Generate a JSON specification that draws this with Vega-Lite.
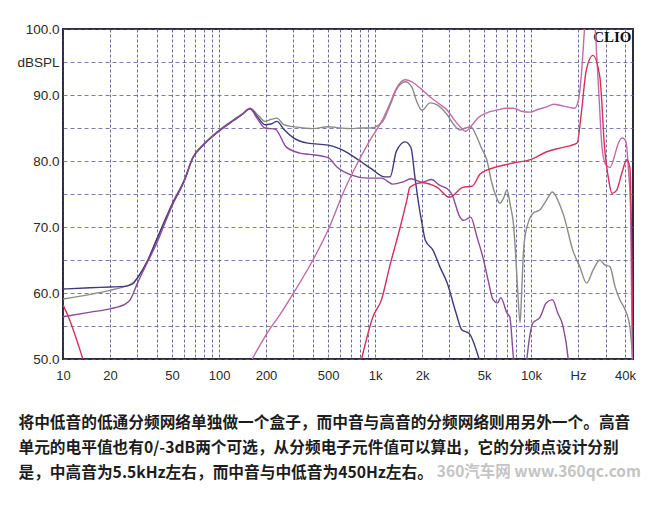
{
  "$schema": "https://vega.github.io/schema/vega-lite/v6.json",
  "autosize": {"type": "none"},
  "width": 570,
  "height": 330,
  "padding": {"left": 63, "top": 29, "right": 17, "bottom": 146},
  "background": "white",
  "title": {"text": "360汽车网 www.360qc.com", "orient": "bottom", "anchor": "end", "frame": "group", "offset": -15, "dx": 8, "font": "Noto Sans CJK SC", "fontSize": 15.5, "fontWeight": "bold", "color": "#c4c4c4"},
  "datasets": {
    "curves": [
      {"s":"G","f":10,"db":59.1},{"s":"G","f":15,"db":59.8},{"s":"G","f":20,"db":60.4},{"s":"G","f":25,"db":61},{"s":"G","f":28,"db":61.5},{"s":"G","f":30,"db":62.3},{"s":"G","f":35,"db":65},{"s":"G","f":40,"db":68.2},{"s":"G","f":45,"db":71},{"s":"G","f":50,"db":73.5},{"s":"G","f":60,"db":77.2},{"s":"G","f":68,"db":80.6},{"s":"G","f":80,"db":82.6},{"s":"G","f":97,"db":84.4},{"s":"G","f":123,"db":86.2},{"s":"G","f":140,"db":87.1},{"s":"G","f":158,"db":88},{"s":"G","f":180,"db":86.8},{"s":"G","f":197,"db":86},{"s":"G","f":215,"db":86.3},{"s":"G","f":235,"db":86.5},{"s":"G","f":260,"db":85.5},{"s":"G","f":297,"db":85.2},{"s":"G","f":350,"db":85},{"s":"G","f":400,"db":84.9},{"s":"G","f":500,"db":85.2},{"s":"G","f":600,"db":85},{"s":"G","f":700,"db":84.9},{"s":"G","f":800,"db":85},{"s":"G","f":930,"db":85},{"s":"G","f":1050,"db":85.4},{"s":"G","f":1120,"db":86},{"s":"G","f":1250,"db":88.5},{"s":"G","f":1370,"db":90.8},{"s":"G","f":1560,"db":92},{"s":"G","f":1720,"db":91.2},{"s":"G","f":1850,"db":89},{"s":"G","f":2000,"db":87.7},{"s":"G","f":2250,"db":88.8},{"s":"G","f":2500,"db":88.5},{"s":"G","f":2900,"db":87},{"s":"G","f":3200,"db":85.5},{"s":"G","f":3500,"db":84.7},{"s":"G","f":3800,"db":85},{"s":"G","f":4100,"db":85.2},{"s":"G","f":4500,"db":83.6},{"s":"G","f":4800,"db":82},{"s":"G","f":5200,"db":80.2},{"s":"G","f":5600,"db":76.7},{"s":"G","f":6000,"db":74.5},{"s":"G","f":6300,"db":73.6},{"s":"G","f":6700,"db":74.5},{"s":"G","f":7000,"db":75.6},{"s":"G","f":7400,"db":73},{"s":"G","f":7700,"db":70.6},{"s":"G","f":8000,"db":65},{"s":"G","f":8200,"db":60.5},{"s":"G","f":8500,"db":55.5},{"s":"G","f":8700,"db":60},{"s":"G","f":8900,"db":65.5},{"s":"G","f":9200,"db":69},{"s":"G","f":10300,"db":72.1},{"s":"G","f":11400,"db":72.6},{"s":"G","f":12500,"db":74},{"s":"G","f":13700,"db":75.3},{"s":"G","f":15000,"db":73.8},{"s":"G","f":16300,"db":71.5},{"s":"G","f":18500,"db":66.5},{"s":"G","f":20500,"db":64},{"s":"G","f":22700,"db":61.5},{"s":"G","f":25000,"db":63.5},{"s":"G","f":27600,"db":65},{"s":"G","f":29500,"db":64.3},{"s":"G","f":32000,"db":64},{"s":"G","f":34500,"db":61},{"s":"G","f":37000,"db":59},{"s":"G","f":40000,"db":57.5},{"s":"G","f":43000,"db":54.8},{"s":"G","f":44800,"db":50},

      {"s":"N","f":10,"db":60.6},{"s":"N","f":15,"db":60.8},{"s":"N","f":20,"db":60.9},{"s":"N","f":25,"db":61},{"s":"N","f":28,"db":61.4},{"s":"N","f":30,"db":62.3},{"s":"N","f":35,"db":65},{"s":"N","f":40,"db":68.2},{"s":"N","f":45,"db":71},{"s":"N","f":50,"db":73.4},{"s":"N","f":60,"db":77.1},{"s":"N","f":68,"db":80.5},{"s":"N","f":80,"db":82.5},{"s":"N","f":97,"db":84.3},{"s":"N","f":123,"db":86.1},{"s":"N","f":140,"db":87},{"s":"N","f":158,"db":87.9},{"s":"N","f":175,"db":86.8},{"s":"N","f":197,"db":85.5},{"s":"N","f":215,"db":85.6},{"s":"N","f":235,"db":86},{"s":"N","f":260,"db":84.8},{"s":"N","f":300,"db":83.5},{"s":"N","f":370,"db":82.7},{"s":"N","f":500,"db":82.4},{"s":"N","f":650,"db":81.4},{"s":"N","f":800,"db":80},{"s":"N","f":950,"db":78.8},{"s":"N","f":1150,"db":77.6},{"s":"N","f":1250,"db":77.6},{"s":"N","f":1370,"db":81.5},{"s":"N","f":1560,"db":82.9},{"s":"N","f":1700,"db":82},{"s":"N","f":1800,"db":77.6},{"s":"N","f":1900,"db":73.6},{"s":"N","f":2000,"db":70.5},{"s":"N","f":2100,"db":68},{"s":"N","f":2350,"db":66.5},{"s":"N","f":2600,"db":64},{"s":"N","f":2900,"db":61.5},{"s":"N","f":3300,"db":57},{"s":"N","f":3600,"db":54.4},{"s":"N","f":4000,"db":53.9},{"s":"N","f":4600,"db":50.3},{"s":"N","f":4900,"db":48},

      {"s":"W","f":10,"db":56.4},{"s":"W","f":15,"db":57.1},{"s":"W","f":20,"db":57.6},{"s":"W","f":25,"db":58.3},{"s":"W","f":27,"db":59},{"s":"W","f":30,"db":61.5},{"s":"W","f":35,"db":64.8},{"s":"W","f":40,"db":67.6},{"s":"W","f":45,"db":70.6},{"s":"W","f":50,"db":73.2},{"s":"W","f":60,"db":77},{"s":"W","f":68,"db":80.5},{"s":"W","f":80,"db":82.5},{"s":"W","f":97,"db":84.3},{"s":"W","f":123,"db":86.1},{"s":"W","f":140,"db":87},{"s":"W","f":158,"db":87.9},{"s":"W","f":175,"db":86.5},{"s":"W","f":197,"db":85},{"s":"W","f":230,"db":84.8},{"s":"W","f":270,"db":82.1},{"s":"W","f":330,"db":81.2},{"s":"W","f":380,"db":81},{"s":"W","f":500,"db":80.5},{"s":"W","f":570,"db":79.1},{"s":"W","f":700,"db":77.9},{"s":"W","f":900,"db":77.4},{"s":"W","f":1100,"db":77.4},{"s":"W","f":1300,"db":76.5},{"s":"W","f":1500,"db":76.8},{"s":"W","f":1700,"db":77.3},{"s":"W","f":2000,"db":76.8},{"s":"W","f":2300,"db":77.2},{"s":"W","f":2600,"db":76.3},{"s":"W","f":2900,"db":75.8},{"s":"W","f":3100,"db":75},{"s":"W","f":3500,"db":71.5},{"s":"W","f":3700,"db":71},{"s":"W","f":4100,"db":71.5},{"s":"W","f":4500,"db":68.5},{"s":"W","f":4900,"db":65.5},{"s":"W","f":5300,"db":62},{"s":"W","f":5700,"db":59},{"s":"W","f":6100,"db":58.5},{"s":"W","f":6400,"db":59.3},{"s":"W","f":7000,"db":57},{"s":"W","f":7300,"db":56.4},{"s":"W","f":7700,"db":50.3},{"s":"W","f":8200,"db":45},{"s":"W","f":9000,"db":45},{"s":"W","f":9400,"db":50},{"s":"W","f":10300,"db":55.5},{"s":"W","f":11400,"db":56.3},{"s":"W","f":12500,"db":58.5},{"s":"W","f":13700,"db":59},{"s":"W","f":14800,"db":57},{"s":"W","f":16000,"db":55},{"s":"W","f":17300,"db":50},{"s":"W","f":18000,"db":45},

      {"s":"P","f":163,"db":50},{"s":"P","f":203,"db":53.9},{"s":"P","f":250,"db":57},{"s":"P","f":300,"db":60},{"s":"P","f":400,"db":65},{"s":"P","f":510,"db":70},{"s":"P","f":620,"db":75},{"s":"P","f":765,"db":79.5},{"s":"P","f":930,"db":83.2},{"s":"P","f":1120,"db":86.3},{"s":"P","f":1250,"db":88.8},{"s":"P","f":1370,"db":91},{"s":"P","f":1560,"db":92.3},{"s":"P","f":1720,"db":92},{"s":"P","f":2000,"db":90.8},{"s":"P","f":2250,"db":89.7},{"s":"P","f":2600,"db":88.6},{"s":"P","f":2900,"db":87.7},{"s":"P","f":3200,"db":86.3},{"s":"P","f":3500,"db":85.2},{"s":"P","f":3800,"db":84.5},{"s":"P","f":4200,"db":85.5},{"s":"P","f":4600,"db":86.6},{"s":"P","f":5200,"db":87.3},{"s":"P","f":6000,"db":87.7},{"s":"P","f":7000,"db":88},{"s":"P","f":7700,"db":88},{"s":"P","f":8800,"db":87.5},{"s":"P","f":9900,"db":87.4},{"s":"P","f":11000,"db":87.8},{"s":"P","f":12600,"db":88.2},{"s":"P","f":14000,"db":88.6},{"s":"P","f":15500,"db":88.4},{"s":"P","f":17000,"db":88.2},{"s":"P","f":19000,"db":88},{"s":"P","f":20000,"db":89},{"s":"P","f":21000,"db":93},{"s":"P","f":21500,"db":96.4},{"s":"P","f":22200,"db":101},{"s":"P","f":23500,"db":103},{"s":"P","f":25500,"db":101},{"s":"P","f":26500,"db":95},{"s":"P","f":27500,"db":88},{"s":"P","f":28500,"db":82},{"s":"P","f":30000,"db":79.5},{"s":"P","f":32000,"db":79},{"s":"P","f":34000,"db":80.5},{"s":"P","f":36000,"db":82.5},{"s":"P","f":38500,"db":83.5},{"s":"P","f":40500,"db":83},{"s":"P","f":42000,"db":79},{"s":"P","f":43500,"db":72},{"s":"P","f":44500,"db":50},

      {"s":"R","f":820,"db":50},{"s":"R","f":970,"db":56.4},{"s":"R","f":1100,"db":59},{"s":"R","f":1240,"db":64},{"s":"R","f":1450,"db":70},{"s":"R","f":1600,"db":74.1},{"s":"R","f":1670,"db":76},{"s":"R","f":2000,"db":76.7},{"s":"R","f":2500,"db":76},{"s":"R","f":3000,"db":74.5},{"s":"R","f":3650,"db":76},{"s":"R","f":4200,"db":76.2},{"s":"R","f":4700,"db":78},{"s":"R","f":5200,"db":78.6},{"s":"R","f":6000,"db":79.1},{"s":"R","f":7700,"db":79.7},{"s":"R","f":9900,"db":80.2},{"s":"R","f":12600,"db":81.4},{"s":"R","f":15500,"db":82},{"s":"R","f":19700,"db":82.7},{"s":"R","f":21000,"db":87.3},{"s":"R","f":22600,"db":93.8},{"s":"R","f":24900,"db":96},{"s":"R","f":27600,"db":92.7},{"s":"R","f":29600,"db":82},{"s":"R","f":31500,"db":77},{"s":"R","f":33000,"db":75.1},{"s":"R","f":35400,"db":75.6},{"s":"R","f":38000,"db":78},{"s":"R","f":41000,"db":80.2},{"s":"R","f":43000,"db":79},{"s":"R","f":44800,"db":55},

      {"s":"RL","f":10,"db":58.2},{"s":"RL","f":11,"db":56},{"s":"RL","f":12,"db":53.5},{"s":"RL","f":13,"db":51},{"s":"RL","f":13.6,"db":49.5}
    ]
  },
  "data": {"name": "curves"},
  "mark": {"type": "line", "clip": true, "strokeWidth": 1.4, "interpolate": "monotone"},
  "encoding": {
    "x": {
      "field": "f", "type": "quantitative",
      "scale": {"type": "log", "domain": [10, 45000], "nice": false},
      "axis": {
        "values": [10,20,30,40,50,60,70,80,90,100,200,300,400,500,600,700,800,900,1000,2000,3000,4000,5000,6000,7000,8000,9000,10000,20000,30000,40000],
        "labelExpr": "datum.value==10?'10':datum.value==20?'20':datum.value==50?'50':datum.value==100?'100':datum.value==200?'200':datum.value==500?'500':datum.value==1000?'1k':datum.value==2000?'2k':datum.value==5000?'5k':datum.value==10000?'10k':datum.value==20000?'Hz':datum.value==40000?'40k':''",
        "grid": true, "ticks": false, "domain": false,
        "gridColor": "#3a3a82", "gridDash": [3, 2], "gridOpacity": 0.75, "gridWidth": 1,
        "labelPadding": 10, "labelFont": "Liberation Sans", "labelFontSize": 13, "labelColor": "#2a2a2a",
        "labelOverlap": false, "labelFlush": false,
        "title": ["将中低音的低通分频网络单独做一个盒子，而中音与高音的分频网络则用另外一个。高音", "单元的电平值也有0/-3dB两个可选，从分频电子元件值可以算出，它的分频点设计分别", "是，中高音为5.5kHz左右，而中音与中低音为450Hz左右。"],
        "titleFont": "Noto Sans CJK SC", "titleFontSize": 15.7, "titleFontWeight": "bold", "titleColor": "#1c1c1c",
        "titleAnchor": "start", "titleAlign": "left", "titleBaseline": "top",
        "titleX": -45, "titleY": 56, "titleLineHeight": 25
      }
    },
    "y": {
      "field": "db", "type": "quantitative",
      "scale": {"domain": [50, 100], "nice": false, "zero": false},
      "axis": {
        "values": [50,55,60,65,70,75,80,85,90,95,100],
        "labelExpr": "datum.value==95?'dBSPL':(datum.value%10==0?format(datum.value,'.1f'):'')",
        "grid": true, "ticks": false, "domain": false,
        "gridColor": "#5a5aa2", "gridDash": [4, 3], "gridOpacity": 0.8, "gridWidth": 1,
        "labelPadding": 4, "labelFont": "Liberation Sans", "labelFontSize": 13.5, "labelColor": "#2a2a2a",
        "labelOverlap": false, "labelFlush": false,
        "title": "CLIO", "titleAngle": 0, "titleX": 568, "titleY": 7, "titleAlign": "right", "titleBaseline": "middle",
        "titleFont": "Liberation Serif", "titleFontSize": 15, "titleFontWeight": "bold", "titleColor": "#111111"
      }
    },
    "color": {
      "field": "s", "type": "nominal",
      "scale": {"domain": ["G","N","W","P","R","RL"], "range": ["#8a8d86","#3c3a78","#8a4a98","#c46aa8","#d62f5a","#d62f5a"]},
      "legend": null
    }
  },
  "config": {"view": {"stroke": "#2b2b3b", "strokeWidth": 2}}
}
